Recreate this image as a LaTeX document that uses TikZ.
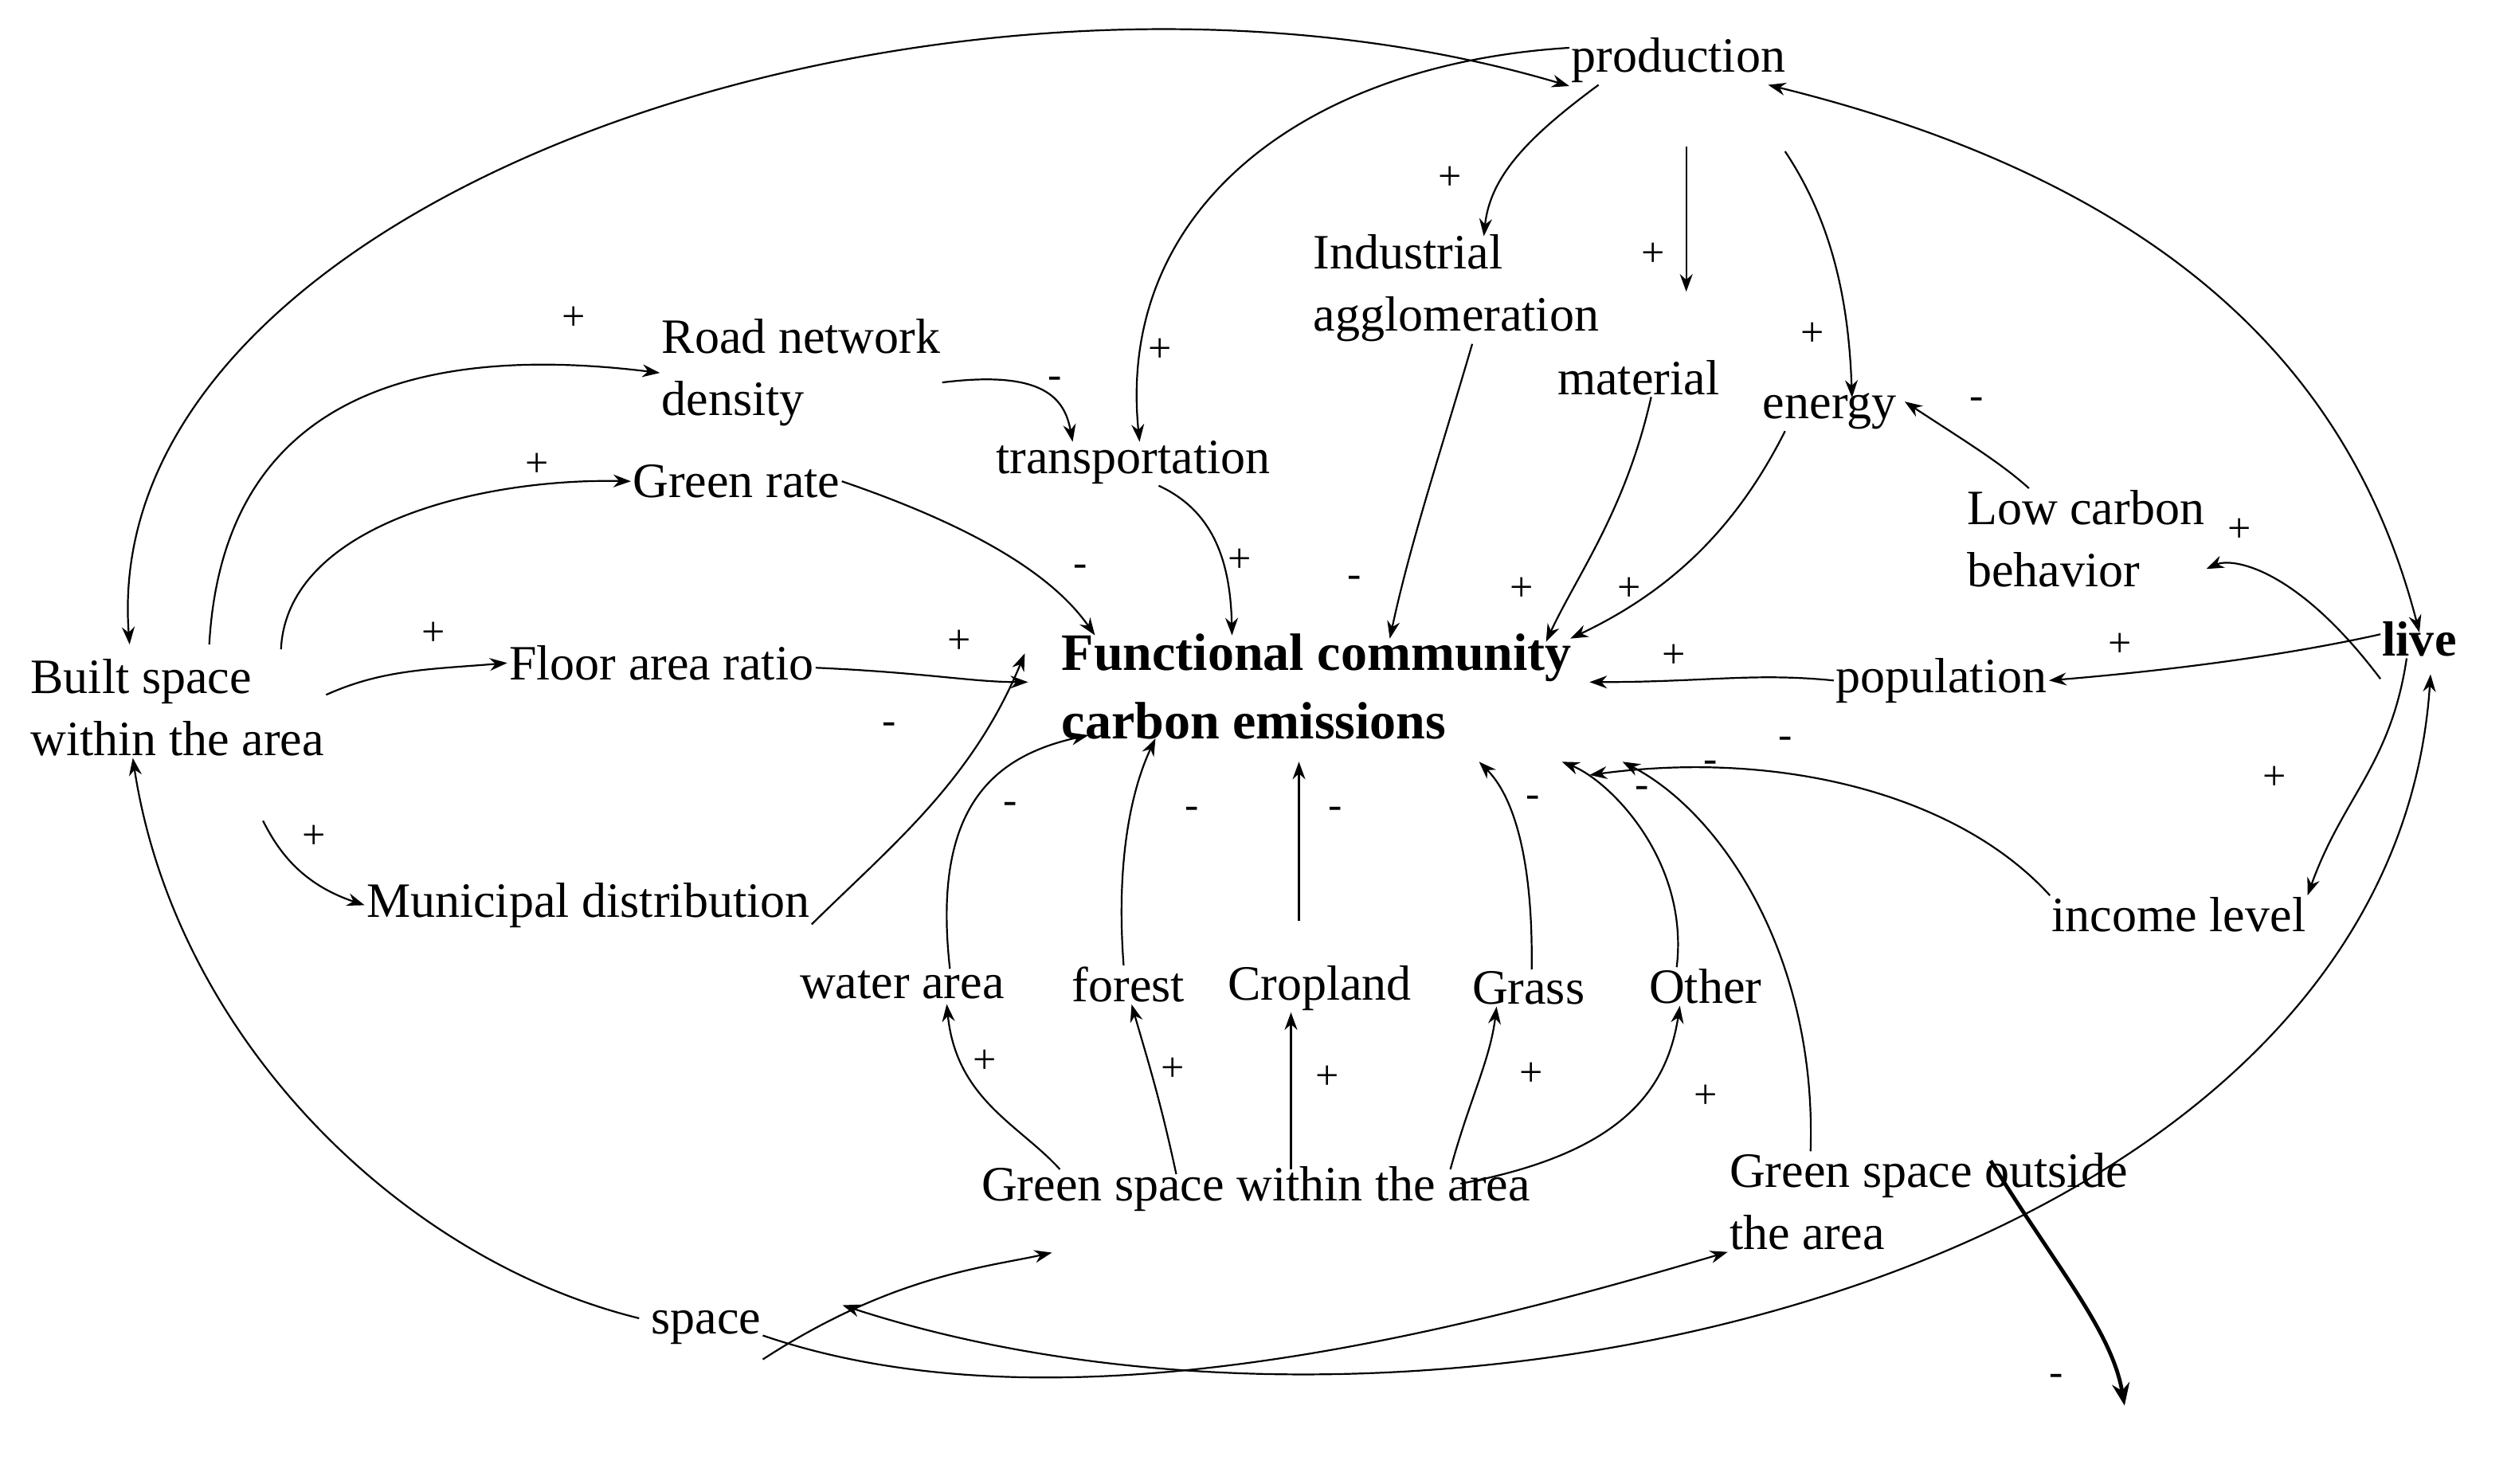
\documentclass[tikz,border=0pt]{standalone}
\usepackage{fontspec}
\setmainfont{Liberation Serif}
\usetikzlibrary{arrows.meta,calc}
\begin{document}
\begin{tikzpicture}[x=1pt,y=-1pt,
  lbl/.style={font=\fontsize{31}{39}\selectfont,inner sep=1pt},
  lft/.style={lbl,anchor=west,align=left},
  sg/.style={font=\fontsize{26}{26}\selectfont,inner sep=0pt},
  con/.style={-{Stealth[length=11pt,width=8pt]},line width=1.1pt},
  bcon/.style={{Stealth[length=11pt,width=8pt]}-{Stealth[length=11pt,width=8pt]},line width=1.1pt}]
\useasboundingbox (0,0) rectangle (1578,931);
% nodes
\node[lbl] (prod) at (1053,38) {production};
\node[lft] (ind) at (823,181) {Industrial\\agglomeration};
\node[lbl] (mat) at (1028,237) {material};
\node[lbl] (ene) at (1148,258) {energy};
\node[lft] (road) at (414,234) {Road network\\density};
\node[lbl] (trans) at (711,290) {transportation};
\node[lbl] (green) at (462,302) {Green rate};
\node[lft] (low) at (1233,338) {Low carbon\\behavior};
\node[lbl,font=\fontsize{31}{39}\selectfont\bfseries] (live) at (1518,401) {live};
\node[lft] (built) at (18,444) {Built space\\within the area};
\node[lbl] (far) at (415,416) {Floor area ratio};
\node[lft,font=\fontsize{33}{43}\selectfont\bfseries] (fcce) at (665,431) {Functional community\\carbon emissions};
\node[lbl] (pop) at (1218,427) {population};
\node[lbl] (mun) at (369,568) {Municipal distribution};
\node[lbl] (inc) at (1367,574) {income level};
\node[lbl] (wat) at (566,618) {water area};
\node[lbl] (for) at (708,618) {forest};
\node[lbl] (cro) at (828,620) {Cropland};
\node[lbl] (gra) at (959,620) {Grass};
\node[lbl] (oth) at (1070,619) {Other};
\node[lbl] (gin) at (788,746) {Green space within the area};
\node[lft] (gout) at (1084,754) {Green space outside\\the area};
\node[lbl] (space) at (443,833) {space};
\coordinate (sink) at (1333,882);
% connectors
\draw[bcon] ([yshift=-16pt]prod.west) .. controls (600,-60) and (60,120) .. ([xshift=-30pt,yshift=8pt]built.north);
\draw[bcon] ([xshift=-12pt]prod.south east) .. controls (1380,120) and (1480,250) .. ([yshift=-8pt]live.north);
\draw[con] ([xshift=-50pt]prod.south) .. controls (960,85) and (935,110) .. ([xshift=108pt,yshift=-2pt]ind.north west);
\draw[con] (1058,92) -- (1058,183);
\draw[con] (1120,95) .. controls (1150,140) and (1160,190) .. ([xshift=14pt,yshift=-4pt]ene.north);
\draw[con] ([yshift=8pt]prod.west) .. controls (820,40) and (700,130) .. ([xshift=4pt,yshift=-2pt]trans.north);
\draw[con] ([yshift=-6pt]road.east) .. controls (655,232) and (668,250) .. ([xshift=-38pt,yshift=-2pt]trans.north);
\draw[con] ([xshift=20pt,yshift=8pt]built.north) .. controls (140,250) and (260,215) .. (road.west);
\draw[con] ([xshift=65pt,yshift=5pt]built.north) .. controls (180,330) and (300,300) .. (green.west);
\draw[con] ([yshift=8pt]built.east) .. controls (240,420) and (270,420) .. (far.west);
\draw[con] (165,515) .. controls (175,535) and (190,555) .. (mun.west);
\draw[con] (green.east) .. controls (610,330) and (660,360) .. ([xshift=22pt,yshift=-2pt]fcce.north west);
\draw[con] ([xshift=16pt]trans.south) .. controls (760,320) and (772,350) .. ([xshift=108pt,yshift=-2pt]fcce.north west);
\draw[con] ([xshift=10pt]ind.south) .. controls (905,280) and (885,340) .. ([xshift=207pt,yshift=-4pt]fcce.north west);
\draw[con] ([xshift=8pt]mat.south) .. controls (1020,320) and (990,360) .. ([xshift=305pt,yshift=-6pt]fcce.north west);
\draw[con] ([xshift=-28pt]ene.south) .. controls (1090,330) and (1050,370) .. ([xshift=-2pt,yshift=-4pt]fcce.north east);
\draw[con] ([xshift=40pt]low.north west) .. controls (1255,290) and (1230,275) .. ([xshift=4pt,yshift=6pt]ene.east);
\draw[con] ([yshift=-25pt]live.west) .. controls (1440,355) and (1400,350) .. ([yshift=-19pt]low.east);
\draw[con] ([yshift=3pt]live.west) .. controls (1440,410) and (1370,420) .. (pop.east);
\draw[con] ([xshift=-8pt]live.south) .. controls (1500,480) and (1470,500) .. (inc.north east);
\draw[con] (pop.west) .. controls (1100,422) and (1070,428) .. ([xshift=10pt,yshift=3pt]fcce.east);
\draw[con] (inc.north west) .. controls (1230,500) and (1120,470) .. ([xshift=10pt,yshift=-21pt]fcce.south east);
\draw[con] ([yshift=-3pt]far.east) .. controls (580,422) and (610,428) .. ([xshift=-20pt,yshift=3pt]fcce.west);
\draw[con] ([yshift=-12pt]mun.east) .. controls (560,530) and (610,490) .. ([xshift=-22pt,yshift=21pt]fcce.west);
\draw[con] ([xshift=30pt]wat.north) .. controls (585,510) and (620,475) .. ([xshift=18pt,yshift=4pt]fcce.south west);
\draw[con] ([xshift=-3pt]for.north) .. controls (700,540) and (710,495) .. ([xshift=60pt,yshift=2pt]fcce.south west);
\draw[con] (815,578) -- (815,478);
\draw[con] ([xshift=2pt]gra.north) .. controls (962,540) and (950,500) .. (928,478);
\draw[con] ([xshift=-18pt]oth.north) .. controls (1060,540) and (1010,490) .. (980,478);
\draw[con] ([xshift=52pt]gout.north west) .. controls (1140,600) and (1080,510) .. (1018,478);
\draw[con] ([xshift=-123pt,yshift=-3pt]gin.north) .. controls (640,706) and (600,690) .. ([xshift=28pt,yshift=-2pt]wat.south);
\draw[con] ([xshift=-50pt,yshift=-6pt]gin.north) .. controls (728,690) and (720,665) .. ([xshift=2pt]for.south);
\draw[con] ([xshift=22pt,yshift=-3pt]gin.north) -- ([xshift=-18pt]cro.south);
\draw[con] ([xshift=122pt,yshift=-3pt]gin.north) .. controls (922,690) and (935,665) .. ([xshift=-20pt]gra.south);
\draw[con] ([xshift=-45pt,yshift=-12pt]gin.north east) .. controls (1010,725) and (1045,690) .. ([xshift=-16pt]oth.south);
\draw[con] ([yshift=-20pt]space.east) .. controls (560,800) and (620,795) .. (660,786);
\draw[con] ([yshift=-5pt]space.east) .. controls (660,900) and (900,840) .. (gout.south west);
\draw[con] ([xshift=-42pt,yshift=-6pt]space.north) .. controls (250,790) and (110,650) .. ([xshift=-28pt]built.south);
\draw[bcon] ([xshift=50pt,yshift=14pt]space.east) .. controls (900,940) and (1500,800) .. ([xshift=7pt,yshift=-10pt]live.south);
\draw[-{Stealth[length=14pt,width=11pt]},line width=2.4pt] ([xshift=165pt,yshift=-6pt]gout.north west) .. controls (1290,795) and (1325,835) .. (sink);
% signs
\foreach \p/\s in {910/112/+,1037/160/+,1137/210/+,728/220/+,662/240/-,360/200/+,337/292/+,272/398/+,197/525/+,
 678/358/-,778/352/+,850/365/-,955/370/+,1022/370/+,1240/253/-,1405/333/+,1330/405/+,1427/488/+,1050/412/+,1120/466/-,
 602/403/+,558/457/-,634/507/-,748/510/-,838/510/-,962/503/-,1030/497/-,1073/481/-,
 618/666/+,736/671/+,833/676/+,961/674/+,1070/688/+,1290/866/-}{
 \pgfmathsetmacro{\dummy}{0}
}
\node[sg] (s1) at (910,112) {+};
\node[sg] (s2) at (1037,160) {+};
\node[sg] (s3) at (1137,210) {+};
\node[sg] (s4) at (728,220) {+};
\node[sg] (s5) at (662,240) {-};
\node[sg] (s6) at (360,200) {+};
\node[sg] (s7) at (337,292) {+};
\node[sg] (s8) at (272,398) {+};
\node[sg] (s9) at (197,525) {+};
\node[sg] (s10) at (678,358) {-};
\node[sg] (s11) at (778,352) {+};
\node[sg] (s12) at (850,365) {-};
\node[sg] (s13) at (955,370) {+};
\node[sg] (s14) at (1022,370) {+};
\node[sg] (s15) at (1240,253) {-};
\node[sg] (s16) at (1405,333) {+};
\node[sg] (s17) at (1330,405) {+};
\node[sg] (s18) at (1427,488) {+};
\node[sg] (s19) at (1050,412) {+};
\node[sg] (s20) at (1120,466) {-};
\node[sg] (s21) at (602,403) {+};
\node[sg] (s22) at (558,457) {-};
\node[sg] (s23) at (634,507) {-};
\node[sg] (s24) at (748,510) {-};
\node[sg] (s25) at (838,510) {-};
\node[sg] (s26) at (962,503) {-};
\node[sg] (s27) at (1030,497) {-};
\node[sg] (s28) at (1073,481) {-};
\node[sg] (s29) at (618,666) {+};
\node[sg] (s30) at (736,671) {+};
\node[sg] (s31) at (833,676) {+};
\node[sg] (s32) at (961,674) {+};
\node[sg] (s33) at (1070,688) {+};
\node[sg] (s34) at (1290,866) {-};
\end{tikzpicture}
\end{document}
